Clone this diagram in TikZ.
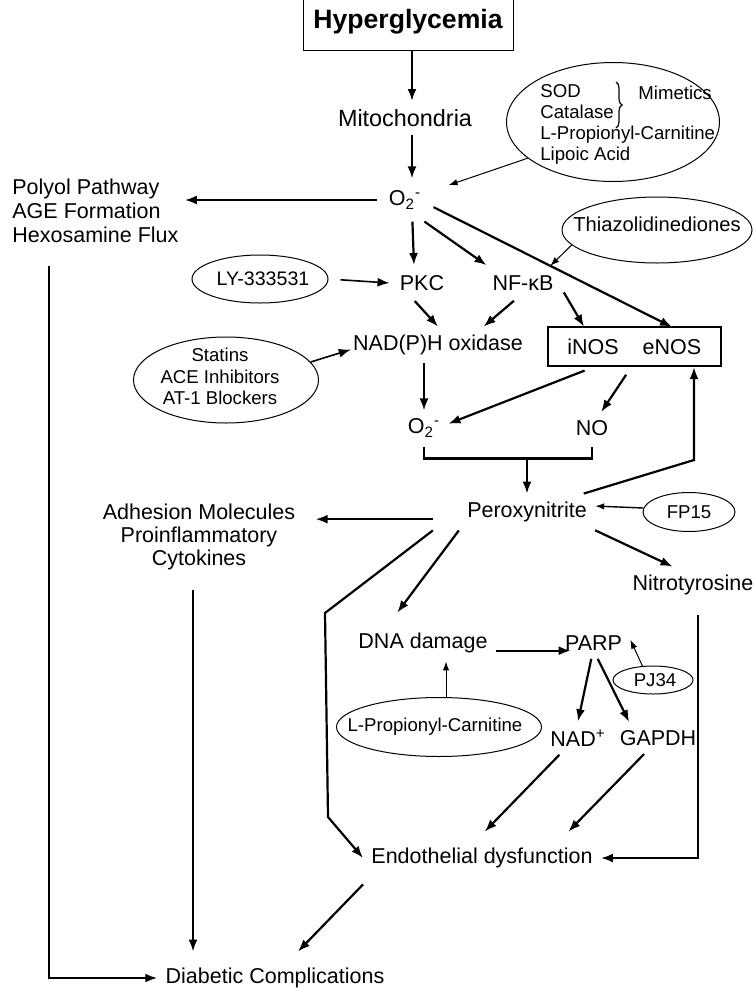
\documentclass[tikz,border=0pt]{standalone}
\usepackage{fontspec}
\setmainfont{Liberation Sans}
\usetikzlibrary{arrows.meta,shapes.geometric,decorations.pathreplacing}

\begin{document}
\begin{tikzpicture}[x=0.5pt, y=-0.5pt,
    every node/.style={font=\fontsize{10.75}{12}\selectfont, inner sep=4pt},
    small/.style={font=\fontsize{9.3}{10.5}\selectfont, inner sep=1pt},
    drug/.style={draw, ellipse, inner sep=0pt, line width=0.5pt},
    arr/.style={-{Latex[length=6pt,width=4.5pt]}, line width=1.1pt},
    thinarr/.style={-{Latex[length=4.5pt,width=3.2pt]}, line width=0.5pt}]

      \useasboundingbox (0,0) rectangle (755,991);

      % top of the cascade
      \node [draw, line width=0.5pt, minimum width=105pt, minimum height=28pt,
             font=\bfseries\fontsize{13.3}{15}\selectfont] (hyper) at (408,22) {Hyperglycemia};
      \node [font=\fontsize{11.7}{13}\selectfont] (mito) at (405,118) {Mitochondria};
      \node [inner sep=6pt] (o2a) at (405,200) {O\textsubscript{2}\textsuperscript{-}};
      \draw [arr] ([xshift=2pt]hyper.south) to ([xshift=3.5pt]mito.north);
      \draw [arr] ([xshift=3.5pt]mito.south) to ([xshift=3.5pt]o2a.north);

      \node [drug, minimum width=106.5pt, minimum height=59.5pt] (sod) at (613,122) {};
      \node [small, anchor=west, align=left] (sodlist) at (538,124.5)
            {SOD\\Catalase\\L-Propionyl-Carnitine\\Lipoic Acid};
      \node [small, anchor=west] (mimetics) at (636,93) {Mimetics};
      \draw [decorate, decoration={brace, amplitude=3pt}, line width=0.6pt] (616,82) -- (616,128);
      \draw [thinarr, shorten >=8pt] (sod.203) to (o2a);

      \node [anchor=west, align=left, inner sep=3pt] (polyol) at (6,211)
            {Polyol Pathway\\AGE Formation\\Hexosamine Flux};
      \draw [arr] (o2a.west) to (o2a.west -| polyol.east);

      % second row
      \node [drug, minimum width=95pt, minimum height=33pt] (thz) at (657,230) {};
      \node [small, font=\fontsize{10.1}{12}\selectfont] (thztxt) at (657,224) {Thiazolidinediones};
      \node [drug, minimum width=68pt, minimum height=24pt] (ly) at (260,279) {};
      \node [small, font=\fontsize{9.8}{12}\selectfont] (lytxt) at (263,279) {LY-333531};

      \node [inner sep=5pt] (pkc)  at (422,283) {PKC};
      \node [inner sep=5pt] (nfkb) at (523,283) {NF-κB};
      \node [inner xsep=1pt, inner ysep=4pt] (nadph) at (438,345) {NAD(P)H oxidase};

      \node [drug, minimum width=92.5pt, minimum height=43pt] (statins) at (226,380) {};
      \node [small, align=center, font=\fontsize{9.3}{10.75}\selectfont] (statinstxt) at (220,376.5)
            {Statins\\ACE Inhibitors\\AT-1 Blockers};

      \node [draw, line width=1.1pt, minimum width=86.5pt, minimum height=19.5pt] (nosbox) at (634.5,346.5) {};
      \node [inner sep=6pt] (inos) at (593,347) {iNOS};
      \node [inner sep=6pt] (enos) at (672,347) {eNOS};

      \draw [arr] (o2a.-71) to (pkc.114);
      \draw [arr] (o2a.-48) to (nfkb.154);
      \draw [arr] (o2a.-14) -- coordinate[pos=0.49] (hit) (enos.north);
      \draw [thinarr] (thz.190) to (hit);
      \draw [arr, line width=0.8pt, shorten <=6pt] (ly.east) to (pkc.west);
      \draw [arr] (pkc.248) to (nadph.90);
      \draw [arr] (nfkb.243) to (nadph.22);
      \draw [arr] (nfkb.-13) to (inos.114);
      \draw [arr, line width=0.8pt] (statins.12) to (nadph.183);

      % superoxide and nitric oxide
      \node (o2b) at (424,428) {O\textsubscript{2}\textsuperscript{-}};
      \node (no)  at (592,428) {NO};
      \draw [arr] (nadph.south -| o2b) to (o2b.north);
      \draw [arr, shorten <=4.5pt] (inos.south) to (o2b.10);
      \draw [arr, shorten <=4.5pt] (inos.south east) to (no.60);

      \coordinate (brk) at ([yshift=-6.5pt]o2b.south);
      \draw [line width=1.1pt] ([yshift=-0.5pt]o2b.south) -- (brk) -| ([yshift=-1.5pt]no.south);

      \node (peroxy) at (527,512) {Peroxynitrite};
      \draw [arr] (peroxy.north |- brk) to (peroxy.north);
      \coordinate (bend) at (694,460);
      \draw [arr] (peroxy.18) -- (bend) -- (bend |- nosbox.south);

      \node [drug, minimum width=46pt, minimum height=19.5pt] (fp15) at (689,512) {};
      \node [small] (fp15txt) at (689,512) {FP15};
      \draw [thinarr, line width=0.7pt] (fp15.175) to (peroxy.5);

      % downstream of peroxynitrite
      \node [align=center, inner xsep=10pt, font=\fontsize{10.75}{11.5}\selectfont] (adhes) at (199,537)
            {Adhesion Molecules\\Proinflammatory\\Cytokines};
      \node (nitro) at (693,585) {Nitrotyrosine};
      \node (dna)   at (423,643) {DNA damage};
      \node (parp)  at (593.5,643) {PARP};
      \node [drug, minimum width=40pt, minimum height=14pt] (pj34) at (653,680) {};
      \node [small] (pj34txt) at (655,680) {PJ34};
      \node [drug, minimum width=102.5pt, minimum height=29.5pt] (lprop) at (439,727) {};
      \node [small] (lproptxt) at (435,727) {L-Propionyl-Carnitine};
      \node (nad)   at (578,738) {NAD\textsuperscript{+}};
      \node (gapdh) at (658,738) {GAPDH};
      \node [inner ysep=8pt] (endo) at (482,858) {Endothelial dysfunction};
      \node [inner ysep=8pt] (diab) at (275,978) {Diabetic Complications};

      \draw [arr, shorten <=13pt] (peroxy.186) to (adhes.east |- peroxy.186);
      \draw [arr] (peroxy.-15) to (nitro.138);
      \draw [arr] ([xshift=-13pt]peroxy.south west) -- (325,613) -- (328,817) -- (endo.west);
      \draw [arr, shorten >=7.5pt] (peroxy.south west) to (dna.152);
      \draw [arr, shorten >=-7pt] (dna.-6) to (dna.-6 -| parp.west);
      \draw [thinarr] (pj34.127) to (parp.5);
      \draw [thinarr] ([xshift=3.5pt]lprop.north) to ([xshift=3.5pt]lprop.north |- dna.south);
      \draw [arr] (parp.-98) to (nad.north);
      \draw [arr] (parp.-75) to (gapdh.151);
      \draw [arr] (nad.222) to (endo.84);
      \draw [arr] (gapdh.229) to (endo.17);
      \draw [arr, shorten <=6pt] ([xshift=2.5pt]nitro.south) |- (endo.east);

      % to the complications
      \draw [arr, shorten <=8.5pt] ([xshift=21.5pt]polyol.south west) |- (diab.west);
      \draw [arr, shorten <=6pt] ([xshift=-3pt]adhes.south) to ([xshift=-3pt]adhes.south |- diab.north);
      \draw [arr] (endo.south west) to (diab.49);
    \end{tikzpicture}
\end{document}
